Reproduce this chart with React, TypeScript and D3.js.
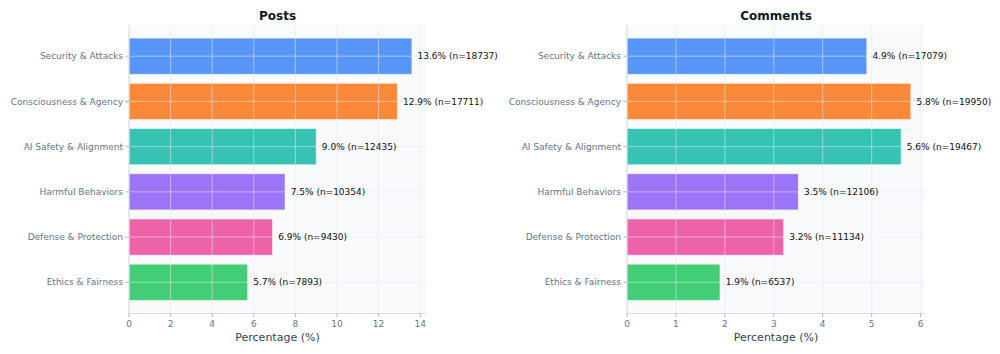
import React from 'react';
import * as d3 from 'd3';

// categories, top to bottom
const categories = [
  'Security & Attacks',
  'Consciousness & Agency',
  'AI Safety & Alignment',
  'Harmful Behaviors',
  'Defense & Protection',
  'Ethics & Fairness',
];
const barColors = ['#3b82f6', '#f97316', '#14b8a6', '#8b5cf6', '#ec4899', '#22c55e'];

const postPct = [13.6, 12.9, 9.0, 7.5, 6.9, 5.7];
const postN = [18737, 17711, 12435, 10354, 9430, 7893];
const postTicks = [0, 2, 4, 6, 8, 10, 12, 14];

const commentPct = [4.9, 5.8, 5.6, 3.5, 3.2, 1.9];
const commentN = [17079, 19950, 19467, 12106, 11134, 6537];
const commentTicks = [0, 1, 2, 3, 4, 5, 6];

const FONT = '"DejaVu Sans", Verdana, sans-serif';
const TOP = 25, BOTTOM = 313.5;

type PanelProps = {
  title: string;
  left: number;
  width: number;
  pct: number[];
  n: number[];
  ticks: number[];
};

function Panel({ title, left, width, pct, n, ticks }: PanelProps) {
  const maxV = d3.max(pct) as number;
  const x = d3.scaleLinear().domain([0, maxV * 1.05]).range([left, left + width]);
  const y = d3.scaleBand<string>()
    .domain(categories)
    .range([TOP, BOTTOM])
    .paddingInner(0.2)
    .paddingOuter(0.29);
  const bw = y.bandwidth();
  const offset = maxV * 0.02;

  return (
    <g>
      {/* plot background */}
      <rect x={left} y={TOP} width={width} height={BOTTOM - TOP} fill="#f8fafc" />

      {/* bars */}
      {categories.map((c, i) => (
        <rect key={c}
              x={x(0)}
              y={y(c)}
              width={x(pct[i]) - x(0)}
              height={bw}
              fill={barColors[i]}
              fillOpacity={0.85}
              stroke="#ffffff"
              strokeOpacity={0.6}
              strokeWidth={0.8} />
      ))}

      {/* grid on top */}
      {ticks.map(t => (
        <line key={'gx' + t} x1={x(t)} x2={x(t)} y1={TOP} y2={BOTTOM}
              stroke="#e2e8f0" strokeOpacity={0.7} strokeWidth={0.8} />
      ))}
      {categories.map(c => (
        <line key={'gy' + c} x1={left} x2={left + width}
              y1={(y(c) as number) + bw / 2} y2={(y(c) as number) + bw / 2}
              stroke="#e2e8f0" strokeOpacity={0.7} strokeWidth={0.8} />
      ))}

      {/* spines */}
      <line x1={left} x2={left} y1={TOP} y2={BOTTOM} stroke="#cbd5e1" strokeWidth={0.8} />
      <line x1={left} x2={left + width} y1={BOTTOM} y2={BOTTOM} stroke="#cbd5e1" strokeWidth={0.8} />

      {/* value labels */}
      {categories.map((c, i) => (
        <text key={'v' + c}
              x={x(pct[i] + offset)}
              y={(y(c) as number) + bw / 2}
              dy="0.35em"
              fontSize={9}
              fill="#111111">
          {pct[i].toFixed(1)}% (n={n[i]})
        </text>
      ))}

      {/* y axis */}
      {categories.map(c => (
        <g key={'yt' + c} transform={`translate(${left},${(y(c) as number) + bw / 2})`}>
          <line x1={-3.5} x2={0} stroke="#94a3b8" strokeWidth={0.8} />
          <text x={-6} dy="0.35em" textAnchor="end" fontSize={9} fill="#64748b">{c}</text>
        </g>
      ))}

      {/* x axis */}
      {ticks.map(t => (
        <g key={'xt' + t} transform={`translate(${x(t)},${BOTTOM})`}>
          <line y1={0} y2={3.5} stroke="#94a3b8" strokeWidth={0.8} />
          <text y={13.5} textAnchor="middle" fontSize={9} fill="#64748b">{t}</text>
        </g>
      ))}
      <text x={left + width / 2} y={341} textAnchor="middle" fontSize={11} fill="#334155">
        Percentage (%)
      </text>

      {/* title */}
      <text x={left + width / 2} y={20} textAnchor="middle" fontSize={12}
            fontWeight="bold" fill="#0f172a">
        {title}
      </text>
    </g>
  );
}

export default function App() {
  return (
    <div style={{ position: 'absolute', left: 0, top: 0 }}>
      <svg width={1000} height={354} style={{ display: 'block', fontFamily: FONT }}>
        <rect width={1000} height={354} fill="#ffffff" />
        <Panel title="Posts" left={129} width={297} pct={postPct} n={postN} ticks={postTicks} />
        <Panel title="Comments" left={627} width={298} pct={commentPct} n={commentN} ticks={commentTicks} />
      </svg>
    </div>
  );
}
